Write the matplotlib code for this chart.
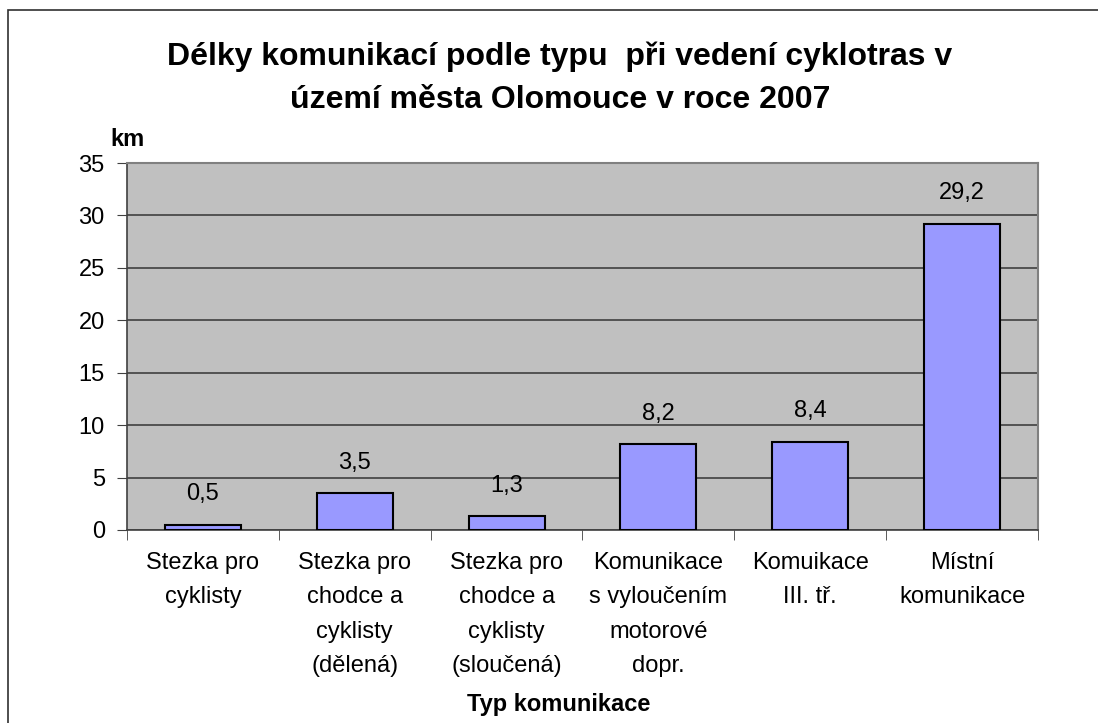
import matplotlib
matplotlib.use("Agg")
import matplotlib.pyplot as plt
from matplotlib.patches import Rectangle
import numpy as np

categories = [
    "Stezka pro\ncyklisty",
    "Stezka pro\nchodce a\ncyklisty\n(dělená)",
    "Stezka pro\nchodce a\ncyklisty\n(sloučená)",
    "Komunikace\ns vyloučením\nmotorové\ndopr.",
    "Komuikace\nIII. tř.",
    "Místní\nkomunikace",
]
values = [0.5, 3.5, 1.3, 8.2, 8.4, 29.2]
value_labels = ["0,5", "3,5", "1,3", "8,2", "8,4", "29,2"]
yticks = [0, 5, 10, 15, 20, 25, 30, 35]

plt.rcParams["font.family"] = ["Liberation Sans", "DejaVu Sans"]

W, H = 1098, 723
fig = plt.figure(figsize=(W / 100, H / 100), dpi=100)
fig.patch.set_facecolor("white")

# outer chart border (cut off at right and bottom like the reference)
fig.patches.append(Rectangle((8 / W, -0.05), 1.2, 1 - 10 / H + 0.05,
                             transform=fig.transFigure, fill=False,
                             edgecolor="#303030", linewidth=1.2))

left, right, top, bottom = 127, 1038, 163, 530
ax = fig.add_axes([left / W, 1 - bottom / H, (right - left) / W, (bottom - top) / H])
ax.set_facecolor("#C0C0C0")

x = np.arange(len(values))
ax.bar(x, values, width=0.5, color="#9999FF", edgecolor="black", linewidth=1.5, zorder=3)
for xi, v, lab in zip(x, values, value_labels):
    ax.annotate(lab, (xi, v), xytext=(0, 14), textcoords="offset points",
                ha="center", va="bottom", fontsize=17, zorder=4)

ax.set_xlim(-0.5, len(values) - 0.5)
ax.set_ylim(0, 35)
ax.set_yticks(yticks)
ax.set_yticklabels([str(t) for t in yticks], fontsize=17)
ax.yaxis.grid(True, color="#404040", linewidth=1.2, zorder=1)
ax.set_axisbelow(True)

ax.set_xticks(np.arange(len(values) + 1) - 0.5, minor=True)
ax.set_xticks(x)
ax.set_xticklabels(categories, fontsize=17, linespacing=1.72, va="top")
ax.tick_params(axis="x", which="major", length=0, pad=16)
ax.tick_params(axis="x", which="minor", length=7, direction="out", color="#404040")
ax.tick_params(axis="y", length=7, direction="out", color="#404040", pad=9)

for side in ["top", "right"]:
    ax.spines[side].set_color("#808080")
    ax.spines[side].set_linewidth(1.5)
ax.spines["left"].set_color("#404040")
ax.spines["bottom"].set_color("#404040")
ax.spines["left"].set_linewidth(1.2)
ax.spines["bottom"].set_linewidth(1.2)

fig.text(560 / W, 1 - 65 / H, "Délky komunikací podle typu  při vedení cyklotras v",
         ha="center", va="baseline", fontsize=23, fontweight="bold")
fig.text(560 / W, 1 - 108 / H, "území města Olomouce v roce 2007",
         ha="center", va="baseline", fontsize=23, fontweight="bold")
fig.text(110 / W, 1 - 146 / H, "km", ha="left", va="baseline", fontsize=17, fontweight="bold")
fig.text(559 / W, 1 - 711 / H, "Typ komunikace", ha="center", va="baseline",
         fontsize=17, fontweight="bold")

fig.savefig("out.png", dpi=100)
